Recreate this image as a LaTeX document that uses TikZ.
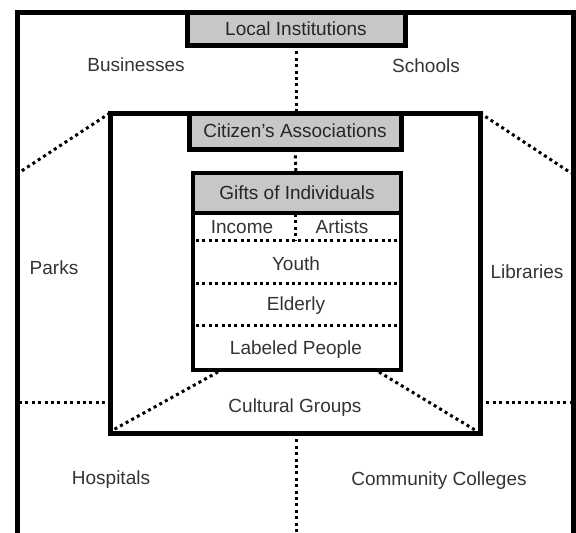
\documentclass[tikz,border=0pt]{standalone}
\usepackage{fontspec}
\setmainfont{Liberation Sans}
\begin{document}
\begin{tikzpicture}[x=1pt,y=-1pt,
  frame/.style={draw, line width=5pt, inner sep=0pt, outer sep=0pt},
  hdr/.style={frame, fill=black!22, text=black!85, font=\fontsize{19}{22}\selectfont},
  lbl/.style={text=black!80, font=\fontsize{19}{22}\selectfont, inner sep=0pt},
  dots/.style={line width=3pt, dash pattern=on 3pt off 3.4pt}]
\useasboundingbox (0,0) rectangle (576,533);
% boxes
\node[frame, minimum width=556pt, minimum height=523pt] (outer) at (295,273.5) {};
\node[frame, minimum width=370pt, minimum height=320pt] (mid) at (295,273) {};
\node[frame, line width=4.5pt, minimum width=208pt, minimum height=197pt] (inner) at (297,271.5) {};
\node[hdr, minimum width=218pt, minimum height=33pt] (li) at (296,28.5) {Local Institutions};
\node[hdr, minimum width=212pt, minimum height=36pt] (ca) at (295,131) {Citizen’s Associations};
\node[hdr, line width=4.5pt, minimum width=208pt, minimum height=40pt] (gi) at (297,193) {Gifts of Individuals};
% labels
\node[lbl] (bus) at (136,65) {Businesses};
\node[lbl] (sch) at (426,66) {Schools};
\node[lbl] (prk) at (54,268) {Parks};
\node[lbl] (lib) at (527,272) {Libraries};
\node[lbl] (hos) at (111,480) {Hospitals};
\node[lbl] (cc) at (439,481) {Community Colleges};
\node[lbl] (cg) at (295,408) {Cultural Groups};
\node[lbl] (inc) at (242,227) {Income};
\node[lbl] (art) at (342,227) {Artists};
\node[lbl] (you) at (296,264) {Youth};
\node[lbl] (eld) at (296,306) {Elderly};
\node[lbl] (lab) at (296,350) {Labeled People};
% coordinates for free ends
\coordinate (midtop) at (296,113);
\coordinate (intop) at (296,173);
\coordinate (midbot) at (296,433);
\coordinate (outbot) at (296,533);
\coordinate (ltl) at (20,172);
\coordinate (rtl) at (571,173);
\coordinate (lh1) at (19,402);
\coordinate (lh2) at (110,402);
\coordinate (rh1) at (480,402);
\coordinate (rh2) at (571,402);
\coordinate (ibl) at (218,372);
\coordinate (ibr) at (379,372);
\coordinate (mbl) at (113,430);
\coordinate (mbr) at (475,430);
\coordinate (d1a) at (196,240);
\coordinate (d1b) at (398,240);
\coordinate (d2a) at (196,283);
\coordinate (d2b) at (398,283);
\coordinate (d3a) at (196,325);
\coordinate (d3b) at (398,325);
\coordinate (gib) at (295,214);
\coordinate (gid) at (295,240);
% dotted connectors
\draw[dots] (li.south) -- (midtop);
\draw[dots] (ca.south) -- (intop);
\draw[dots] (midbot) -- (outbot);
\draw[dots] (mid.north west) -- (ltl);
\draw[dots] (mid.north east) -- (rtl);
\draw[dots] (lh1) -- (lh2);
\draw[dots] (rh1) -- (rh2);
\draw[dots] (ibl) -- (mbl);
\draw[dots] (ibr) -- (mbr);
\draw[dots] (d1a) -- (d1b);
\draw[dots] (d2a) -- (d2b);
\draw[dots] (d3a) -- (d3b);
\draw[dots] (gib) -- (gid);
\end{tikzpicture}
\end{document}
